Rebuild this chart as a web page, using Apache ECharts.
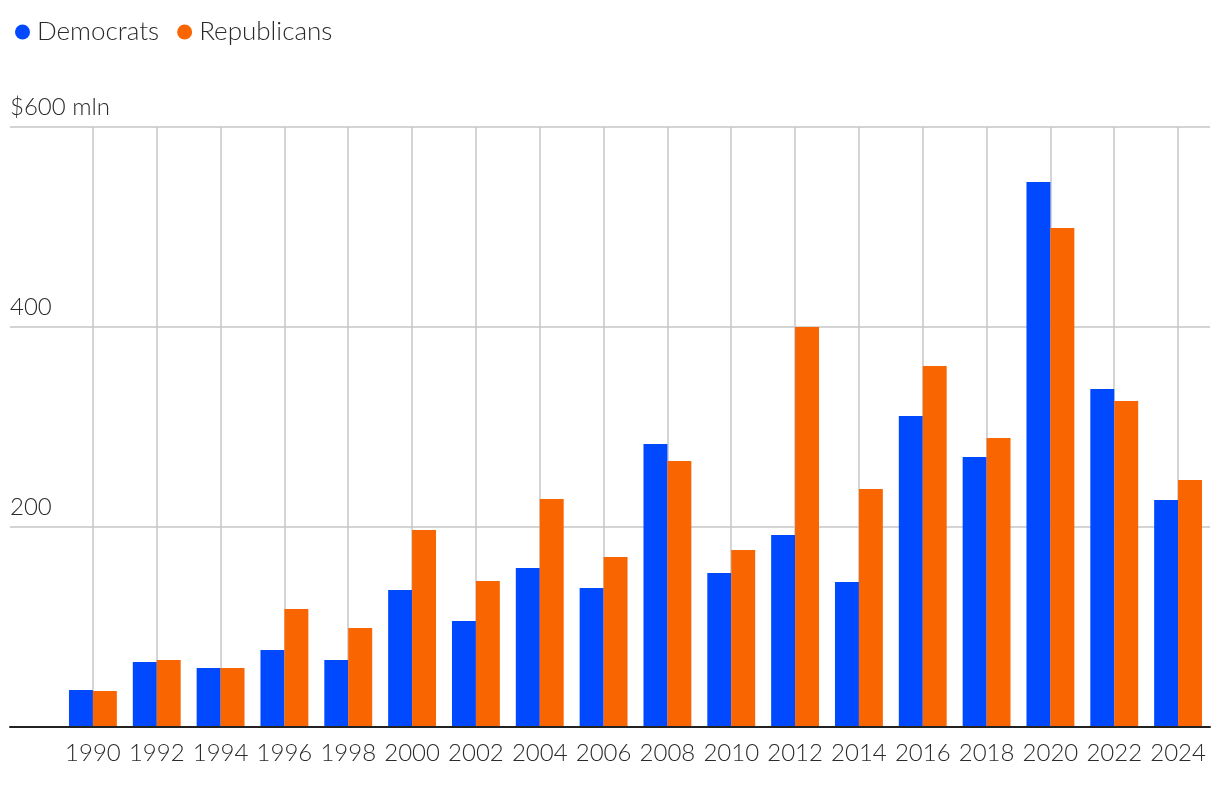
<!DOCTYPE html>
<html>
<head>
<meta charset="utf-8">
<script src="https://cdn.jsdelivr.net/npm/echarts@6/dist/echarts.min.js"></script>
<style>
html,body{margin:0;padding:0;background:#fff;}
#chart{width:1220px;height:790px;}
</style>
</head>
<body>
<div id="chart"></div>
<script>
const years = ['1990','1992','1994','1996','1998','2000','2002','2004','2006','2008','2010','2012','2014','2016','2018','2020','2022','2024'];
const democrats = [37,65,59,77,67,137,106,159,139,283,154,192,145,311,270,545,338,227];
const republicans = [36,67,59,118,99,197,146,228,170,266,177,400,238,361,289,499,326,247];
const yTicks = [0,200,400,600];

const FONT = 'Lato, "Noto Sans", sans-serif';
const TXT = '#2a2a2a';
const BLUE = '#0049ff';
const ORANGE = '#f96500';
const GRID = '#c6c6c6';

const chart = echarts.init(document.getElementById('chart'));
chart.setOption({
  animation: false,
  textStyle: {fontFamily: FONT},
  legend: {
    left: 10, top: 14,
    icon: 'circle', itemWidth: 15, itemHeight: 15, itemGap: 18,
    textStyle: {fontFamily: FONT, fontSize: 26, fontWeight: 300, color: TXT, padding: [0,0,0,2]},
    data: ['Democrats','Republicans']
  },
  grid: [
    {left: 10, right: 10, top: 127, bottom: 63},
    {left: 61, right: 10, top: 127, bottom: 63}
  ],
  xAxis: [
    {gridIndex: 0, type: 'category', data: years, boundaryGap: true,
     axisLine: {show: true, lineStyle: {color: '#222', width: 2}},
     axisTick: {show: false}, axisLabel: {show: false}, splitLine: {show: false}, z: 10},
    {gridIndex: 1, type: 'category', data: years, boundaryGap: true,
     axisLine: {show: false}, axisTick: {show: false},
     axisLabel: {show: true, interval: 0, hideOverlap: false, fontSize: 24, fontWeight: 300, color: TXT, fontFamily: FONT, margin: 14},
     splitLine: {show: true, interval: 0, alignWithLabel: true, lineStyle: {color: GRID, width: 1.5}}}
  ],
  yAxis: [
    {gridIndex: 0, type: 'value', min: yTicks[0], max: yTicks[yTicks.length-1], interval: 200,
     axisLine: {show: false}, axisTick: {show: false},
     splitLine: {show: true, lineStyle: {color: GRID, width: 1.5}},
     axisLabel: {inside: true, margin: 0, verticalAlign: 'bottom', padding: [0,0,8,0],
       fontSize: 24, fontWeight: 300, color: TXT, fontFamily: FONT,
       formatter: v => v === 0 ? '' : (v === 600 ? '$600 mln' : String(v))}},
    {gridIndex: 1, type: 'value', min: yTicks[0], max: yTicks[yTicks.length-1], interval: 200,
     show: false, splitLine: {show: false}}
  ],
  series: [
    {name: 'Democrats', type: 'bar', xAxisIndex: 1, yAxisIndex: 1, data: democrats,
     itemStyle: {color: BLUE}, barGap: '0%', barCategoryGap: '25%', z: 5},
    {name: 'Republicans', type: 'bar', xAxisIndex: 1, yAxisIndex: 1, data: republicans,
     itemStyle: {color: ORANGE}, barGap: '0%', barCategoryGap: '25%', z: 5}
  ]
});
</script>
</body>
</html>
